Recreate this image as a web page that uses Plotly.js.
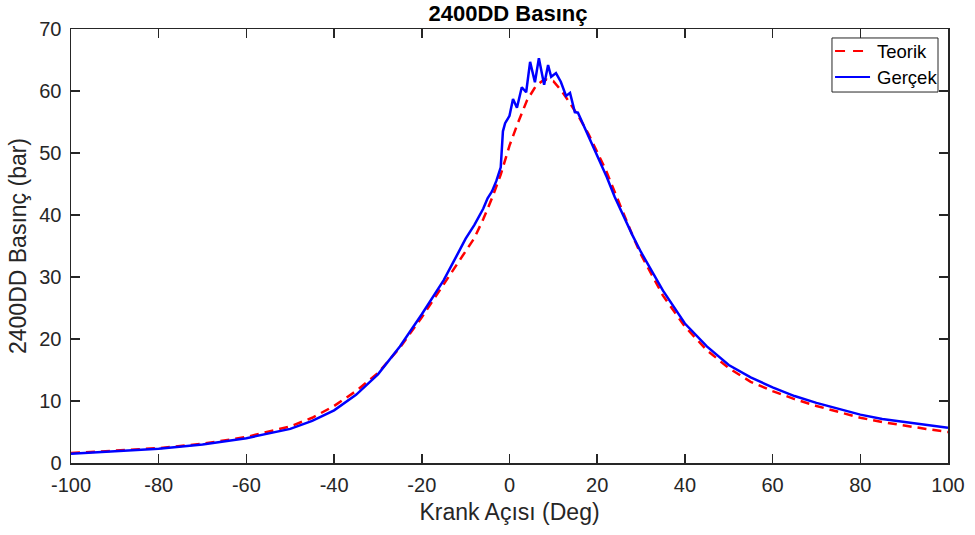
<!DOCTYPE html>
<html>
<head>
<meta charset="utf-8">
<script src="https://cdn.plot.ly/plotly-3.0.1.min.js"></script>
<style>html,body{margin:0;padding:0;background:#fff;}#chart{width:975px;height:535px;}</style>
</head>
<body>
<div id="chart"></div>
<script>
const teorikX = [-100,-90,-80,-70,-60,-50,-45,-40,-35,-30,-25,-20,-15,-10,-8,-6,-4,-2,0,2,4,6,8,10,12,14,16,18,20,22,24,26,28,30,35,40,45,50,55,60,65,70,75,80,85,90,95,100];
const teorikY = [1.6,2.0,2.4,3.1,4.2,5.9,7.3,9.2,11.6,14.5,18.6,23.5,28.8,34.2,36.3,39.3,42.7,46.5,51.2,55.0,58.5,60.8,61.9,61.6,59.9,57.8,55.6,53.1,50.2,47.2,43.7,40.2,36.8,33.6,27.0,22.0,18.2,15.3,13.1,11.6,10.3,9.2,8.2,7.3,6.6,6.0,5.5,5.0];
const gercekX = [-100,-90,-80,-70,-60,-50,-45,-40,-35,-30,-25,-20,-15,-12,-10,-8,-6,-5,-4,-3,-2,-1.5,-1,0,0.8,1.7,2.8,3.8,4.7,5.8,6.7,7.9,8.8,9.5,10.6,11.7,12.9,13.8,14.9,15.6,17.7,20,22.2,24,26,28,30,35,40,45,50,55,60,65,70,75,80,85,90,95,100];
const gercekY = [1.5,1.9,2.3,3.0,4.0,5.5,6.8,8.5,11.0,14.3,18.8,24.0,29.5,33.5,36.2,38.4,41.0,42.7,43.8,45.5,47.7,53.5,54.8,56.0,58.7,57.3,60.6,59.8,64.7,61.4,65.3,61.0,64.2,62.3,62.9,61.5,59.2,59.7,56.6,56.5,53.2,49.7,46.1,42.9,39.8,36.8,34.0,27.8,22.5,18.8,15.8,13.8,12.2,10.8,9.7,8.7,7.8,7.1,6.6,6.1,5.7];
const xTicks = [-100,-80,-60,-40,-20,0,20,40,60,80,100];
const yTicks = [0,10,20,30,40,50,60,70];
const seriesNames = ['Teorik', 'Gerçek'];

const font = 'Liberation Sans, Arial, Helvetica, sans-serif';
const axisCommon = {
  showline: true, linecolor: '#262626', linewidth: 1.5, mirror: 'allticks',
  ticks: 'inside', ticklen: 9, tickwidth: 1.5, tickcolor: '#262626',
  showgrid: false, zeroline: false,
  tickfont: {family: font, size: 20, color: '#262626'}
};
const styles = [
  {color: '#ff0000', width: 2.5, dash: '9px,6px'},
  {color: '#0000ff', width: 2.5}
];

const data = [
  {x: teorikX, y: teorikY, name: seriesNames[0], type: 'scatter', mode: 'lines', line: styles[0], showlegend: false},
  {x: gercekX, y: gercekY, name: seriesNames[1], type: 'scatter', mode: 'lines', line: styles[1], showlegend: false}
];

// custom legend box (MATLAB style), positioned in paper coordinates
const legBox = {x0: 0.8677, x1: 0.9886, y0: 0.8548, y1: 0.9793};
const rowY = [0.9493, 0.8894];
const shapes = [
  {type: 'rect', xref: 'paper', yref: 'paper', x0: legBox.x0, x1: legBox.x1, y0: legBox.y0, y1: legBox.y1,
   line: {color: '#262626', width: 1}, fillcolor: '#ffffff', layer: 'above'}
];
const annotations = [];
seriesNames.forEach((n, i) => {
  shapes.push({type: 'line', xref: 'paper', yref: 'paper', x0: 0.8712, x1: 0.9111, y0: rowY[i], y1: rowY[i],
    line: {color: styles[i].color, width: 2, dash: styles[i].dash ? '10px,8px' : 'solid'}, layer: 'above'});
  annotations.push({xref: 'paper', yref: 'paper', x: 0.9168, y: rowY[i], xanchor: 'left', yanchor: 'middle',
    text: n, showarrow: false, font: {family: font, size: 18.5, color: '#000'}});
});

const layout = {
  width: 975, height: 535,
  margin: {l: 71, r: 27, t: 29, b: 72},
  paper_bgcolor: '#fff', plot_bgcolor: '#fff',
  title: {text: '<b>2400DD Basınç</b>', font: {family: font, size: 22, color: '#000'}, x: 0.521, xanchor: 'center', y: 0.976, yanchor: 'middle'},
  xaxis: Object.assign({}, axisCommon, {range: [-100, 100], tickvals: xTicks, ticktext: xTicks.map(String),
    ticklabelstandoff: 3,
    title: {text: 'Krank Açısı (Deg)', font: {family: font, size: 23, color: '#262626'}, standoff: 9}}),
  yaxis: Object.assign({}, axisCommon, {range: [0, 70], tickvals: yTicks, ticktext: yTicks.map(String),
    ticklabelstandoff: 4,
    title: {text: '2400DD Basınç (bar)', font: {family: font, size: 23, color: '#262626'}, standoff: 6}}),
  shapes: shapes,
  annotations: annotations,
  showlegend: false
};

Plotly.newPlot('chart', data, layout, {staticPlot: true, displayModeBar: false});
</script>
</body>
</html>
